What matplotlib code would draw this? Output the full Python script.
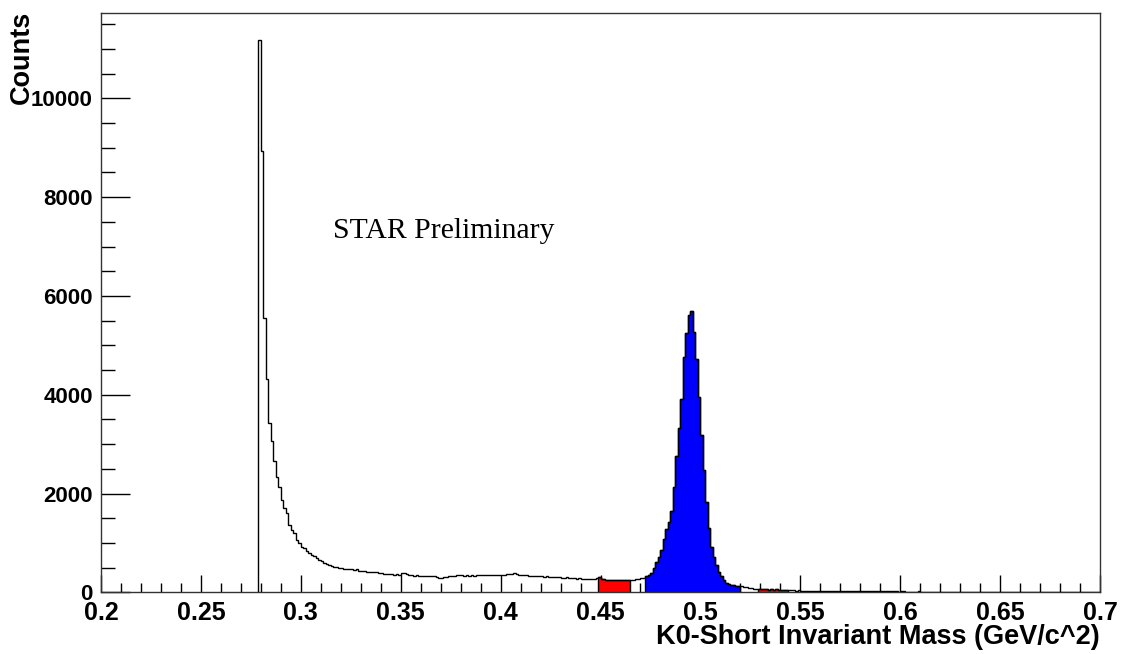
import numpy as np
import matplotlib
matplotlib.use("Agg")
import matplotlib.pyplot as plt
from matplotlib.ticker import MultipleLocator, FuncFormatter

# ─── Histogram binning (GeV/c^2) ────────────────────────────────────────
BIN_START = 0.27875
BIN_WIDTH = 0.00125

# counts per bin, split by mass range
spike = [11190, 8925, 5546, 4311, 3420, 3060, 2650, 2330, 2125, 1870,
         1700, 1600, 1362, 1260, 1194, 1058, 990, 923, 890,
         840, 800, 760, 725, 690, 660, 630, 600, 575, 553, 535, 520,
         505, 490, 492, 478, 470, 462, 470, 458, 462, 440]
plateau = [430, 422, 418, 410, 415, 402, 405, 396, 388, 380,
           372, 368, 362, 358, 365, 360, 392, 396, 362, 350,
           345, 340, 348, 335, 340, 330, 334, 322, 320, 328,
           316, 292, 286, 305, 312, 322, 332, 340, 346, 342,
           346, 340, 350, 336, 344, 340, 352, 356, 346, 350,
           358, 354, 350, 344, 350, 356, 348, 352, 362, 372,
           380, 388, 372, 356, 350, 342, 346, 336, 330, 340,
           326, 330, 320, 314, 324, 318, 308, 314, 304, 308,
           298, 294, 300, 288, 284, 290, 278, 282, 272, 278,
           268, 274, 270, 276, 282]
left_sideband = [310, 268, 262, 255, 250, 258, 252, 246, 256, 248, 242, 250, 246]
left_gap = [250, 256, 262, 270, 280, 292]
signal = [330, 350, 397, 486, 620, 721, 856, 1073, 1275, 1429,
          1652, 2125, 2759, 3319, 3906, 4756, 5242, 5613, 5700,
          5275, 4716, 3959, 3184, 2475, 1834, 1295, 923, 721, 553,
          417, 330, 249, 194, 168, 148, 140, 134, 128]
right_gap = [118, 108, 98, 90, 82, 76, 70]
right_sideband = [66, 62, 58, 64, 55, 60, 52, 58, 54, 56, 48, 52]
tail = [40, 38, 41, 36, 37, 34, 35, 32, 33, 30, 31, 29, 30, 27, 28, 26, 27, 25, 26, 24, 25, 23, 24, 22, 23,
        30, 22, 34, 21, 28, 20, 32, 22, 26, 19, 30, 21, 20, 18, 19, 17, 18, 26, 17, 16, 17, 24, 16, 15, 16,
        15, 14, 22, 15, 14, 13, 14, 13, 12, 13, 12, 11, 12, 11, 12, 10, 11, 10, 11, 10, 9, 10, 9, 9, 8,
        9, 8, 8, 7, 8, 7, 7, 6, 7, 6, 6, 5, 6, 5, 5, 5, 4, 5, 4, 4, 4, 3, 4, 3, 3,
        3, 3, 2, 3, 2, 2, 2, 2, 1, 2, 1, 1, 1, 1, 1, 1, 0, 1, 0, 0, 1, 0, 0, 0, 0]

counts = np.array(spike + plateau + left_sideband + left_gap + signal
                  + right_gap + right_sideband + tail, dtype=float)
edges = np.round(BIN_START + BIN_WIDTH * np.arange(len(counts) + 1), 6)

# shaded mass windows
SIGNAL_RANGE = (0.4725, 0.52)
SIDEBANDS = [(0.44875, 0.465), (0.52875, 0.54375)]


def window(lo, hi):
    i0 = int(round((lo - BIN_START) / BIN_WIDTH))
    i1 = int(round((hi - BIN_START) / BIN_WIDTH))
    return counts[i0:i1], edges[i0:i1 + 1]


# ─── Plot ───────────────────────────────────────────────────────────────
fig = plt.figure(figsize=(11.22, 6.54), dpi=100)
ax = fig.add_axes([101 / 1122, 1 - 592.3 / 654, 999 / 1122, 579.8 / 654])

for lo, hi in SIDEBANDS:
    v, e = window(lo, hi)
    ax.stairs(v, e, fill=True, facecolor="#ff0000", edgecolor="black",
              linewidth=1.0, zorder=2)
v, e = window(*SIGNAL_RANGE)
ax.stairs(v, e, fill=True, facecolor="#0000ff", edgecolor="black",
          linewidth=1.0, zorder=2)

ax.stairs(counts, edges, color="black", linewidth=1.0, zorder=3)

ax.set_xlim(0.2, 0.7)
ax.set_ylim(0, 11737)

ax.xaxis.set_major_locator(MultipleLocator(0.05))
ax.xaxis.set_minor_locator(MultipleLocator(0.01))
ax.yaxis.set_major_locator(MultipleLocator(2000))
ax.yaxis.set_minor_locator(MultipleLocator(500))
ax.xaxis.set_major_formatter(FuncFormatter(lambda v, p: f"{v:g}"))
ax.yaxis.set_major_formatter(FuncFormatter(lambda v, p: f"{v:g}"))

ax.tick_params(axis="x", which="major", direction="in", length=12.2, width=1.0, pad=6)
ax.tick_params(axis="x", which="minor", direction="in", length=6.5, width=1.0)
ax.tick_params(axis="y", which="major", direction="in", length=20.9, width=1.0, pad=6)
ax.tick_params(axis="y", which="minor", direction="in", length=10, width=1.0)
ax.tick_params(top=False, right=False, which="both")

for lab in ax.get_xticklabels():
    lab.set_fontfamily("Liberation Sans")
    lab.set_fontweight("bold")
    lab.set_fontsize(18)
for lab in ax.get_yticklabels():
    lab.set_fontfamily("Liberation Sans")
    lab.set_fontweight("bold")
    lab.set_fontsize(16)

for sp in ax.spines.values():
    sp.set_linewidth(1.0)
    sp.set_color("#333333")

fig.text(1100 / 1122, 1 - 637 / 654, "K0-Short Invariant Mass (GeV/c^2)",
         ha="right", va="center", fontsize=19.5, fontweight="bold",
         family="Liberation Sans")
fig.text(22 / 1122, 1 - 11 / 654, "Counts", rotation=90, ha="center", va="top",
         fontsize=19.5, fontweight="bold", family="Liberation Sans")

ax.text(0.316, 7310, "STAR Preliminary", ha="left", va="center",
        fontsize=21.4, family="Liberation Serif")

fig.savefig("out.png", dpi=100)
